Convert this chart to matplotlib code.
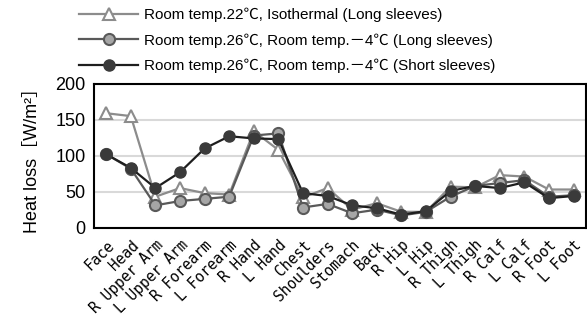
import matplotlib
matplotlib.use('Agg')
import matplotlib.pyplot as plt
import numpy as np

plt.rcParams['font.family'] = ['Liberation Sans', 'Noto Sans CJK JP', 'DejaVu Sans']

parts = ['Face', 'Head', 'R Upper Arm', 'L Upper Arm', 'R Forearm', 'L Forearm',
         'R Hand', 'L Hand', 'Chest', 'Shoulders', 'Stomach', 'Back', 'R Hip',
         'L Hip', 'R Thigh', 'L Thigh', 'R Calf', 'L Calf', 'R Foot', 'L Foot']

# heat loss per body part, W/m2
iso_long = [159, 155, 43, 55, 48, 46, 134, 108, 42, 55, 25, 34, 22, 22, 57, 56, 73, 71, 53, 53]
rt26_long = [102, 82, 31, 37, 40, 43, 128, 131, 28, 33, 20, 25, 17, 22, 43, 58, 62, 66, 43, 45]
rt26_short = [102, 83, 55, 77, 110, 127, 124, 123, 48, 44, 31, 27, 18, 23, 51, 58, 55, 63, 41, 44]

labels = ['Room temp.22℃, Isothermal (Long sleeves)',
          'Room temp.26℃, Room temp.－4℃ (Long sleeves)',
          'Room temp.26℃, Room temp.－4℃ (Short sleeves)']

fig = plt.figure(figsize=(5.87, 3.22), dpi=100)
ax = fig.add_axes([0.160, 0.293, 0.838, 0.447])

x = np.arange(len(parts))
ax.plot(x, iso_long, color='#8c8c8c', lw=1.6, marker='^', ms=8,
        mfc='white', mec='#8c8c8c', mew=1.5, label=labels[0], zorder=3)
ax.plot(x, rt26_long, color='#595959', lw=1.6, marker='o', ms=8,
        mfc='#a6a6a6', mec='#595959', mew=1.5, label=labels[1], zorder=4)
ax.plot(x, rt26_short, color='#1e1e1e', lw=1.6, marker='o', ms=8,
        mfc='#3a3a3a', mec='#3a3a3a', mew=1.0, label=labels[2], zorder=5)

ax.set_xlim(-0.5, len(parts) - 0.5)
ax.set_ylim(0, 200)
ax.set_yticks([0, 50, 100, 150, 200])
ax.grid(axis='y', color='#d9d9d9', lw=1.5)
ax.set_axisbelow(True)
for s in ax.spines.values():
    s.set_linewidth(1.5)
    s.set_color('black')

ax.set_xticks(x)
ax.set_xticklabels(parts, rotation=45, ha='right', va='top', rotation_mode='anchor',
                   fontsize=10.5, family=['DejaVu Sans Mono'])
ax.tick_params(axis='x', length=0, pad=7)
ax.tick_params(axis='y', length=0, labelsize=13, pad=6)
ax.set_ylabel('Heat loss［W/m²］', fontsize=13, labelpad=10)

fig.legend(loc='upper left', bbox_to_anchor=(0.112, 1.018), frameon=False,
           fontsize=11, handlelength=3.8, labelspacing=0.72, handletextpad=0.45)

fig.savefig('out.png', dpi=100)
